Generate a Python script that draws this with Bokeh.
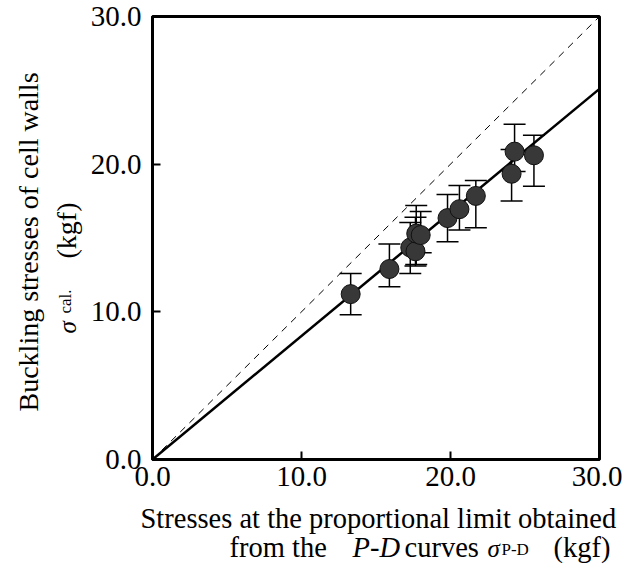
import math
from bokeh.plotting import figure
from bokeh.layouts import row, column
from bokeh.models import Range1d, FixedTicker, Whisker, TeeHead, ColumnDataSource, NumeralTickFormatter
from bokeh.core.properties import value
from bokeh.embed import file_html
from bokeh.resources import INLINE

# ---- data ----
x_pd = [13.3, 15.9, 17.3, 17.65, 17.7, 18.0, 19.8, 20.6, 21.7, 24.1, 24.3, 25.6]
y_cal = [11.2, 12.9, 14.35, 14.1, 15.3, 15.2, 16.35, 16.95, 17.85, 19.35, 20.85, 20.6]
err_low = [9.8, 11.7, 12.6, 13.1, 13.2, 14.0, 14.75, 15.55, 15.7, 17.5, 19.5, 18.5]
err_high = [12.6, 14.6, 16.05, 16.4, 17.2, 16.8, 17.95, 18.55, 18.9, 21.0, 22.7, 21.95]
line_x = [0.0, 30.0]
fit_y = [0.0, 25.1]        # regression line
equal_y = [0.0, 30.0]      # y = x
ticks = [0, 10, 20, 30]

FONT = "Liberation Serif"
W, H = 622, 568
LEFT_W = 86          # width of the y-title strip
TOP_H = 500          # height of the upper row
BOT_H = H - TOP_H    # height of the x-title strip
F_TOP, F_BOT = 16, 459   # frame top / bottom in page pixels

# ---------------- main plot ----------------
p = figure(width=W - LEFT_W, height=TOP_H, output_backend="svg", toolbar_location=None,
           x_range=Range1d(0, 30), y_range=Range1d(0, 30), title=None,
           min_border_left=152 - LEFT_W, min_border_right=23,
           min_border_top=F_TOP, min_border_bottom=TOP_H - F_BOT)
p.grid.visible = False
p.outline_line_color = "black"
p.outline_line_width = 3
p.background_fill_color = "white"
p.border_fill_color = "white"

for ax in (p.xaxis[0], p.yaxis[0]):
    ax.ticker = FixedTicker(ticks=ticks)
    ax.formatter = NumeralTickFormatter(format="0.0")
    ax.axis_line_width = 3
    ax.major_tick_in = 8
    ax.major_tick_out = 0
    ax.major_tick_line_width = 2
    ax.minor_tick_line_color = None
    ax.major_label_text_font = FONT
    ax.major_label_text_font_size = "29px"
    ax.major_label_text_color = "black"
p.xaxis[0].major_label_standoff = 7
p.yaxis[0].major_label_standoff = 11

p.line(line_x, equal_y, line_color="black", line_width=1, line_dash="7 6")
p.line(line_x, fit_y, line_color="black", line_width=2.5)

src = ColumnDataSource(dict(x=x_pd, y=y_cal, lo=err_low, hi=err_high))
w = Whisker(source=src, base="x", lower="lo", upper="hi", dimension="height",
            line_color="black", line_width=1.5,
            upper_head=TeeHead(size=22, line_width=1.5, line_color="black"),
            lower_head=TeeHead(size=22, line_width=1.5, line_color="black"))
p.add_layout(w)
p.scatter("x", "y", source=src, size=19, fill_color="#383838", line_color="#111111", line_width=1)


# ---------------- title strips (text only, pixel coordinates) ----------------
def put(f, text, x, y, size, style="normal", angle=0.0):
    f.text(x=[x], y=[y], text=[text], text_font=value(FONT), text_font_size=size,
           text_font_style=style, text_color="black", angle=angle,
           text_align="left", text_baseline="middle")

# y-axis title strip (left): its frame matches the main frame's rows
ly = figure(width=LEFT_W, height=TOP_H, output_backend="svg", toolbar_location=None,
            x_range=Range1d(0, LEFT_W), y_range=Range1d(F_BOT, F_TOP), title=None,
            x_axis_location=None, y_axis_location=None,
            min_border_left=0, min_border_right=0,
            min_border_top=F_TOP, min_border_bottom=TOP_H - F_BOT, outline_line_color=None)
ly.grid.visible = False
a = math.pi / 2
put(ly, "Buckling stresses of cell walls", 28, 411, "28px", angle=a)
put(ly, "\u03c3", 67, 333, "25px", "italic", angle=a)
put(ly, "cal.", 65, 313, "17px", angle=a)
put(ly, "(kgf)", 66, 258, "28px", angle=a)

# x-axis title strip (bottom)
bx = figure(width=W, height=BOT_H, output_backend="svg", toolbar_location=None,
            x_range=Range1d(0, W), y_range=Range1d(H, TOP_H), title=None,
            x_axis_location=None, y_axis_location=None,
            min_border=0, outline_line_color=None)
bx.grid.visible = False
put(bx, "Stresses at the proportional limit obtained", 140, 518, "28.5px")
put(bx, "from the", 229, 547, "28.5px")
put(bx, "P-D", 352, 547, "28.5px", "italic")
put(bx, "curves", 404, 547, "28.5px")
put(bx, "\u03c3", 487, 548, "25px", "italic")
put(bx, "P-D", 501, 549, "17px")
put(bx, "(kgf)", 553, 547, "28.5px")

layout = column(row(ly, p, spacing=0), bx, spacing=0)
open("out.html", "w").write(file_html(layout, INLINE))
